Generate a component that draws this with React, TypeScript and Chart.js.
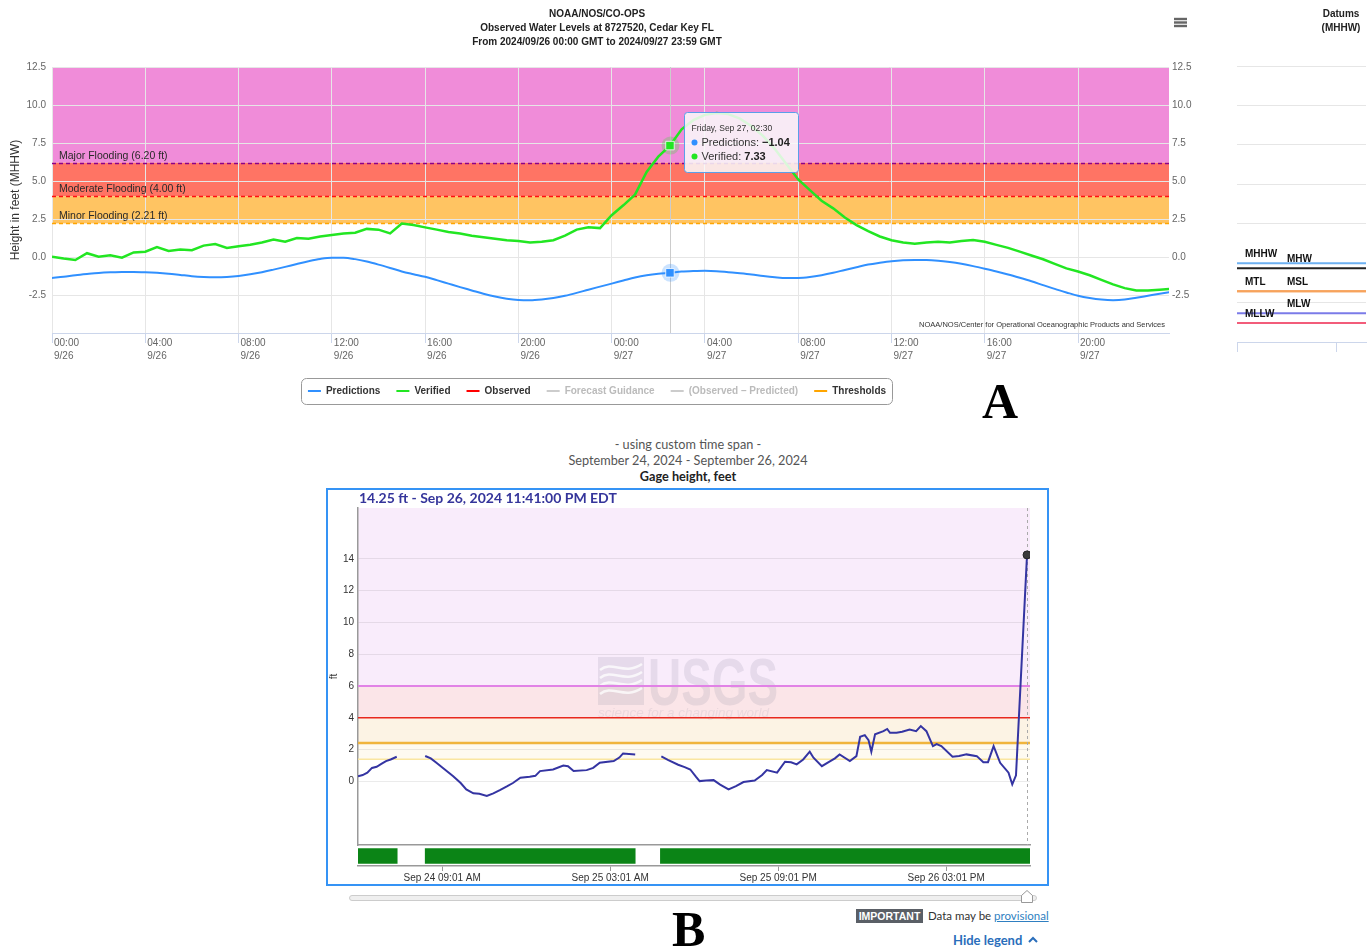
import React, { useEffect, useRef } from 'react';
import { Chart, registerables } from 'chart.js';

Chart.register(...registerables);

const SANS = "'Liberation Sans', Arial, Helvetica, sans-serif";
const LATO = "Lato, 'Open Sans', sans-serif";
Chart.defaults.font.family = SANS;

// ---------- Panel A: CO-OPS 8727520 Cedar Key FL (hours since 2024/09/26 00:00 GMT) ----------
const levelStepHours = 0.5;
const predictionsFt = [
  -1.38, -1.3, -1.2, -1.12, -1.05, -1.01, -0.99, -0.98, -1.0, -1.04,
  -1.1, -1.18, -1.26, -1.31, -1.33, -1.31, -1.25, -1.14, -1.0, -0.83,
  -0.65, -0.46, -0.28, -0.13, -0.05, -0.05, -0.14, -0.3, -0.5, -0.72,
  -0.95, -1.13, -1.3, -1.52, -1.75, -1.98, -2.2, -2.42, -2.6, -2.74,
  -2.83, -2.85, -2.8, -2.7, -2.55, -2.36, -2.15, -1.95, -1.75, -1.55,
  -1.35, -1.2, -1.1, -1.04, -0.96, -0.92, -0.9, -0.93, -1.0, -1.07,
  -1.15, -1.25, -1.33, -1.38, -1.38, -1.32, -1.2, -1.04, -0.85, -0.67,
  -0.5, -0.38, -0.28, -0.22, -0.2, -0.2, -0.24, -0.33, -0.45, -0.6,
  -0.77, -0.95, -1.15, -1.37, -1.6, -1.85, -2.1, -2.33, -2.55, -2.7,
  -2.8, -2.84, -2.8, -2.68, -2.55, -2.42, -2.3,
];
const verifiedFt = [
  0.02, -0.1, -0.2, 0.25, 0.02, 0.12, -0.05, 0.3, 0.35, 0.65,
  0.4, 0.5, 0.45, 0.75, 0.85, 0.6, 0.7, 0.8, 0.95, 1.15,
  1.0, 1.25, 1.2, 1.35, 1.45, 1.55, 1.6, 1.85, 1.8, 1.55,
  2.2, 2.1, 1.95, 1.8, 1.65, 1.55, 1.4, 1.3, 1.2, 1.1,
  1.05, 0.95, 1.0, 1.1, 1.4, 1.8, 1.95, 1.9, 2.75, 3.4,
  4.1, 5.6, 6.6, 7.33, 8.4, 9.0, 9.35, 9.47, 9.4, 9.1,
  8.6, 7.95, 7.1, 6.1, 5.1, 4.4, 3.7, 3.2, 2.6, 2.1,
  1.7, 1.35, 1.1, 0.95, 0.88, 0.95, 1.0, 0.95, 1.05, 1.12,
  1.0, 0.8, 0.6, 0.35, 0.1, -0.15, -0.45, -0.75, -0.95, -1.2,
  -1.5, -1.8, -2.05, -2.2, -2.2, -2.15, -2.1,
];

const levelAxisMaxHour = 47.9;
const levelTickHours = [0, 4, 8, 12, 16, 20, 24, 28, 32, 36, 40, 44];
const levelTickTimes = ['00:00', '04:00', '08:00', '12:00', '16:00', '20:00', '00:00', '04:00', '08:00', '12:00', '16:00', '20:00'];
const levelTickDates = ['9/26', '9/26', '9/26', '9/26', '9/26', '9/26', '9/27', '9/27', '9/27', '9/27', '9/27', '9/27'];
const levelYTicks = [-5, -2.5, 0, 2.5, 5, 7.5, 10, 12.5];

const floodNames = ['Major Flooding', 'Moderate Flooding', 'Minor Flooding'];
const floodLevelsFt = [6.2, 4.0, 2.21];
const floodBandTops = [12.5, 6.2, 4.0];
const floodBandColors = ['#F08CD9', '#FF7464', '#FFC462'];
const floodLineColors = ['#8B008B', '#FF1010', '#FFA500'];

const tooltipHour = 26.5;
const tooltipTitle = 'Friday, Sep 27, 02:30';

const legendNames = ['Predictions', 'Verified', 'Observed', 'Forecast Guidance', '(Observed – Predicted)', 'Thresholds'];
const legendColors = ['#3090FF', '#22E622', '#FF0000', '#CCCCCC', '#CCCCCC', '#FFA500'];
const legendTextColors = ['#333333', '#333333', '#333333', '#BBBBBB', '#BBBBBB', '#333333'];

const PRED_COLOR = '#3090FF';
const VER_COLOR = '#22E622';

// ---------- Datums (MHHW) ----------
const datumNames = ['MHHW', 'MHW', 'MTL', 'MSL', 'MLW', 'MLLW'];
const datumValuesFt = [0, -0.32, -1.78, -1.78, -3.17, -3.8];
const datumColors = ['#6DB1F2', '#222222', '#F7A35C', '#F7A35C', '#7B7BE8', '#F25C7A'];
const datumLabelColumn = [0, 1, 0, 1, 1, 0];
const datumGridFt = [-2.5, 0, 2.5, 5, 7.5, 10, 12.5];

// ---------- Panel B: gage height (hours since Sep 24 00:00 EDT) ----------
const gageHours = [
  0, 0.5, 1, 1.5, 2, 2.5, 3, 3.5, 4.15, 5.7,
  7.2, 7.8, 8.4, 9.3, 10.2, 11, 11.6, 12.36, 13, 13.8,
  14.5, 15.2, 16, 16.6, 17.4, 18.4, 19, 19.5, 20.9, 22,
  22.5, 23.1, 24.5, 25.2, 25.9, 27.4, 28, 28.4, 29.7, 31,
  32.5, 33.2, 34.3, 35, 35.6, 36.2, 36.6, 37.3, 38.1, 38.8,
  39.7, 40.5, 41.3, 42.5, 43.3, 43.8, 44.9, 45.75, 46.4, 47,
  47.7, 48.4, 48.8, 49.7, 50.6, 51.1, 51.6, 52.7, 53.4, 53.8,
  54.3, 54.7, 55, 55.4, 56.3, 56.7, 57, 57.7, 58.3, 59.1,
  59.8, 60.3, 60.9, 61.6, 62, 62.5, 63.7, 64.4, 65.2, 66.3,
  67, 67.5, 68.1, 68.8, 69.7, 70.1, 70.5, 71.683,
];
const gageFt = [
  0.33, 0.4, 0.55, 0.85, 0.92, 1.1, 1.28, 1.38, 1.55, null,
  1.6, 1.45, 1.17, 0.75, 0.33, -0.1, -0.5, -0.75, -0.78, -0.92,
  -0.75, -0.55, -0.3, -0.1, 0.23, 0.3, 0.35, 0.65, 0.75, 1.0,
  0.95, 0.65, 0.71, 0.85, 1.17, 1.28, 1.5, 1.76, 1.7, null,
  1.57, 1.35, 1.05, 0.9, 0.75, 0.3, 0.02, 0.05, 0.08, -0.2,
  -0.5, -0.3, -0.04, 0.06, 0.4, 0.71, 0.55, 1.24, 1.2, 1.07,
  1.38, 1.87, 1.49, 0.96, 1.28, 1.45, 1.7, 1.28, 1.59, 2.81,
  2.91, 2.6, 1.87, 2.96, 3.16, 3.3, 3.06, 3.06, 3.12, 3.27,
  3.16, 3.48, 3.16, 2.22, 2.35, 2.22, 1.55, 1.6, 1.7, 1.59,
  1.21, 1.21, 2.22, 1.17, 0.55, -0.19, 0.38, 14.25,
];
const gageReadingStamp = 'Sep 26, 2024 11:41:00 PM EDT';
const gageYTicks = [0, 2, 4, 6, 8, 10, 12, 14];
const gageAxisMax = 17.2;

const gageBandFrom = [6, 4, 2.41, 1.4];
const gageBandTo = [gageAxisMax, 6, 4, 2.41];
const gageBandColors = ['#F9ECFB', '#FBE5E8', '#FCF3E4', '#FEFAF0'];
const gageLineValues = [6, 4, 2.41, 1.4];
const gageLineColors = ['#E182E6', '#E8281E', '#F0B43C', '#FAE6A0'];
const gageLineWidths = [2, 1.5, 2.5, 1.5];

const coverageStart = [0, 7.2, 32.4];
const coverageEnd = [4.2, 29.7, 72];
const gageTickHours = [9.017, 27.017, 45.017, 63.017];
const gageTickLabels = ['Sep 24 09:01 AM', 'Sep 25 03:01 AM', 'Sep 25 09:01 PM', 'Sep 26 03:01 PM'];

const fmtFt = (v: number) => (v < 0 ? '−' : '') + Math.abs(v).toFixed(2);
const tipIndex = Math.round(tooltipHour / levelStepHours);

// ---------- plugins ----------
const floodPlugin = {
  id: 'floodThresholds',
  beforeDraw(chart: any) {
    const { ctx, chartArea: a, scales } = chart;
    const y = scales.y;
    ctx.save();
    floodLevelsFt.forEach((from, i) => {
      const top = y.getPixelForValue(floodBandTops[i]);
      const bot = y.getPixelForValue(from);
      ctx.fillStyle = floodBandColors[i];
      ctx.fillRect(a.left, top, a.right - a.left, bot - top);
    });
    ctx.restore();
  },
  beforeDatasetsDraw(chart: any) {
    const { ctx, chartArea: a, scales } = chart;
    const { x, y } = scales;
    ctx.save();
    floodLevelsFt.forEach((v, i) => {
      const py = Math.round(y.getPixelForValue(v)) + 0.5;
      ctx.setLineDash([4, 3]);
      ctx.strokeStyle = floodLineColors[i];
      ctx.lineWidth = 1.5;
      ctx.beginPath();
      ctx.moveTo(a.left, py);
      ctx.lineTo(a.right, py);
      ctx.stroke();
      ctx.setLineDash([]);
      ctx.font = `10.5px ${SANS}`;
      ctx.fillStyle = '#2a2a2a';
      ctx.textBaseline = 'alphabetic';
      ctx.textAlign = 'left';
      ctx.fillText(`${floodNames[i]} (${v.toFixed(2)} ft)`, a.left + 7, py - 5);
    });
    // crosshair at the hovered time
    const px = Math.round(x.getPixelForValue(tooltipHour)) + 0.5;
    ctx.strokeStyle = '#cccccc';
    ctx.lineWidth = 1;
    ctx.beginPath();
    ctx.moveTo(px, a.top);
    ctx.lineTo(px, a.bottom);
    ctx.stroke();
    // hover halos
    const halo = (val: number, color: string) => {
      ctx.beginPath();
      ctx.arc(px, y.getPixelForValue(val), 9, 0, Math.PI * 2);
      ctx.fillStyle = color;
      ctx.fill();
    };
    halo(predictionsFt[tipIndex], 'rgba(48,144,255,0.25)');
    halo(verifiedFt[tipIndex], 'rgba(34,230,34,0.25)');
    ctx.restore();
  },
  afterDraw(chart: any) {
    const { ctx, chartArea: a, scales } = chart;
    const { x, y } = scales;
    ctx.save();
    // credits
    ctx.font = `7.5px ${SANS}`;
    ctx.fillStyle = '#333';
    ctx.textAlign = 'right';
    ctx.textBaseline = 'middle';
    ctx.fillText('NOAA/NOS/Center for Operational Oceanographic Products and Services', a.right - 4, a.bottom - 8);

    // tooltip
    const px = x.getPixelForValue(tooltipHour);
    const vy = y.getPixelForValue(verifiedFt[tipIndex]);
    const rows = [
      { name: 'Predictions: ', value: fmtFt(predictionsFt[tipIndex]), color: PRED_COLOR, w: 0 },
      { name: 'Verified: ', value: fmtFt(verifiedFt[tipIndex]), color: VER_COLOR, w: 0 },
    ];
    ctx.font = `8.5px ${SANS}`;
    const titleW = ctx.measureText(tooltipTitle).width;
    let rowW = 0;
    rows.forEach((r) => {
      ctx.font = `11px ${SANS}`;
      r.w = ctx.measureText(r.name).width;
      ctx.font = `bold 11px ${SANS}`;
      rowW = Math.max(rowW, 11 + r.w + ctx.measureText(r.value).width);
    });
    const w = Math.round(Math.max(titleW, rowW) + 15);
    const h = 60;
    const left = Math.round(px + 14) + 0.5;
    const top = Math.round(vy - 34) + 0.5;
    ctx.beginPath();
    ctx.roundRect(left, top, w, h, 3);
    ctx.fillStyle = 'rgba(249,249,249,0.86)';
    ctx.fill();
    ctx.strokeStyle = '#5A9FEA';
    ctx.lineWidth = 1;
    ctx.stroke();
    ctx.textAlign = 'left';
    ctx.textBaseline = 'middle';
    ctx.font = `8.5px ${SANS}`;
    ctx.fillStyle = '#333';
    ctx.fillText(tooltipTitle, left + 7, top + 16);
    rows.forEach((r, i) => {
      const ry = top + 30 + i * 14;
      ctx.beginPath();
      ctx.arc(left + 10, ry, 3, 0, Math.PI * 2);
      ctx.fillStyle = r.color;
      ctx.fill();
      ctx.fillStyle = '#333';
      ctx.font = `11px ${SANS}`;
      ctx.fillText(r.name, left + 17, ry);
      ctx.font = `bold 11px ${SANS}`;
      ctx.fillStyle = '#222';
      ctx.fillText(r.value, left + 17 + r.w, ry);
    });

    // export menu icon
    ctx.fillStyle = '#666';
    [19, 22.5, 26].forEach((yy) => ctx.fillRect(1174, yy - 1.2, 13, 2.4));

    // legend frame
    const hb = chart.legend && chart.legend.legendHitBoxes;
    if (hb && hb.length) {
      const l = Math.min(...hb.map((b: any) => b.left)) - 7;
      const r = Math.max(...hb.map((b: any) => b.left + b.width)) + 6;
      const cy = hb[0].top + hb[0].height / 2;
      ctx.beginPath();
      ctx.roundRect(Math.round(l) + 0.5, Math.round(cy - 13) + 0.5, Math.round(r - l), 26, 5);
      ctx.strokeStyle = '#999';
      ctx.lineWidth = 1;
      ctx.stroke();
    }
    ctx.restore();
  },
};

const datumPlugin = {
  id: 'datumLabels',
  afterDraw(chart: any) {
    const { ctx, chartArea: a, scales } = chart;
    const y = scales.y;
    ctx.save();
    ctx.font = `bold 10px ${SANS}`;
    ctx.fillStyle = '#111';
    ctx.textBaseline = 'middle';
    ctx.textAlign = 'left';
    datumNames.forEach((n, i) => {
      const px = a.left + (datumLabelColumn[i] ? 50 : 8);
      ctx.fillText(n, px, y.getPixelForValue(datumValuesFt[i]) - 9);
    });
    ctx.textAlign = 'center';
    ctx.fillStyle = '#222';
    ctx.fillText('Datums', 111, 14);
    ctx.fillText('(MHHW)', 111, 28);
    ctx.restore();
  },
};

const gagePlugin = {
  id: 'gageThresholds',
  beforeDraw(chart: any) {
    const { ctx, chartArea: a, scales } = chart;
    const y = scales.y;
    ctx.save();
    gageBandFrom.forEach((from, i) => {
      const top = y.getPixelForValue(gageBandTo[i]);
      const bot = y.getPixelForValue(from);
      ctx.fillStyle = gageBandColors[i];
      ctx.fillRect(a.left, top, a.right - a.left, bot - top);
    });
    ctx.restore();
  },
  beforeDatasetsDraw(chart: any) {
    const { ctx, chartArea: a, scales } = chart;
    const { x, y } = scales;
    ctx.save();
    // USGS watermark
    const ox = a.left + 240;
    const oy = a.top + 149;
    const wm = 'rgba(120,120,145,0.15)';
    ctx.fillStyle = wm;
    ctx.fillRect(ox, oy, 46, 48);
    ctx.strokeStyle = 'rgba(255,255,255,0.75)';
    ctx.lineWidth = 2.5;
    for (let k = 0; k < 4; k++) {
      const wy = oy + 9 + k * 8;
      ctx.beginPath();
      ctx.moveTo(ox + 2, wy + 4);
      ctx.bezierCurveTo(ox + 14, wy - 6, ox + 26, wy + 10, ox + 44, wy - 2);
      ctx.stroke();
    }
    ctx.fillStyle = wm;
    ctx.font = `bold 66px ${SANS}`;
    ctx.textBaseline = 'alphabetic';
    ctx.textAlign = 'left';
    const ww = ctx.measureText('USGS').width;
    ctx.save();
    ctx.translate(ox + 50, oy + 48);
    ctx.scale(130 / ww, 1);
    ctx.fillText('USGS', 0, 0);
    ctx.restore();
    ctx.fillStyle = 'rgba(120,120,145,0.12)';
    ctx.font = `italic 13.5px ${SANS}`;
    ctx.fillText('science for a changing world', ox, oy + 60);

    // threshold lines
    gageLineValues.forEach((v, i) => {
      const py = y.getPixelForValue(v);
      ctx.strokeStyle = gageLineColors[i];
      ctx.lineWidth = gageLineWidths[i];
      ctx.beginPath();
      ctx.moveTo(a.left, py);
      ctx.lineTo(a.right, py);
      ctx.stroke();
    });
    // crosshair at latest reading
    const px = Math.round(x.getPixelForValue(gageHours[gageHours.length - 1])) + 0.5;
    ctx.strokeStyle = '#aaaaaa';
    ctx.lineWidth = 1;
    ctx.setLineDash([3, 3]);
    ctx.beginPath();
    ctx.moveTo(px, a.top);
    ctx.lineTo(px, a.bottom);
    ctx.stroke();
    ctx.restore();
  },
  afterDraw(chart: any) {
    const { ctx, chartArea: a } = chart;
    ctx.save();
    ctx.font = `bold 14px ${LATO}`;
    ctx.fillStyle = '#35359B';
    ctx.textBaseline = 'middle';
    ctx.textAlign = 'left';
    const latest = gageFt[gageFt.length - 1] as number;
    ctx.fillText(`${latest.toFixed(2)} ft - ${gageReadingStamp}`, a.left + 1, 8);
    ctx.restore();
  },
};

function useChart(ref: any, make: () => any) {
  useEffect(() => {
    const chart = new Chart(ref.current, make());
    return () => chart.destroy();
  }, []);
}

function levelConfig(): any {
  const setTicks = (s: any) => {
    s.ticks = levelYTicks.map((v) => ({ value: v }));
  };
  const yLabel = (v: any) => (v === -5 ? '' : Number(v).toFixed(1));
  return {
    type: 'line',
    data: {
      datasets: [
        {
          label: 'Verified',
          data: verifiedFt.map((v, i) => ({ x: i * levelStepHours, y: v })),
          borderColor: VER_COLOR,
          borderWidth: 2.5,
          tension: 0,
          order: 0,
          pointStyle: 'rect',
          pointRadius: (c: any) => (c.dataIndex === tipIndex ? 6 : 0),
          pointBackgroundColor: VER_COLOR,
          pointBorderColor: 'rgba(255,255,255,0.8)',
          pointBorderWidth: 1,
        },
        {
          label: 'Predictions',
          data: predictionsFt.map((v, i) => ({ x: i * levelStepHours, y: v })),
          borderColor: PRED_COLOR,
          borderWidth: 2,
          cubicInterpolationMode: 'monotone',
          order: 1,
          pointStyle: 'rect',
          pointRadius: (c: any) => (c.dataIndex === tipIndex ? 6 : 0),
          pointBackgroundColor: PRED_COLOR,
          pointBorderColor: 'rgba(255,255,255,0.8)',
          pointBorderWidth: 1,
        },
      ],
    },
    options: {
      responsive: false,
      animation: false,
      events: [],
      layout: { padding: 0 },
      plugins: {
        title: {
          display: true,
          text: ['NOAA/NOS/CO-OPS', 'Observed Water Levels at 8727520, Cedar Key FL', 'From 2024/09/26 00:00 GMT to 2024/09/27 23:59 GMT'],
          font: { family: SANS, size: 10, weight: 'bold', lineHeight: 1.4 },
          color: '#222',
          padding: { top: 7, bottom: 18 },
        },
        legend: {
          position: 'bottom',
          onClick: () => {},
          labels: {
            font: { family: SANS, size: 10, weight: 'bold' },
            color: '#333',
            boxWidth: 13,
            boxHeight: 2,
            padding: 16,
            generateLabels: () =>
              legendNames.map((name, i) => ({
                text: name,
                fillStyle: legendColors[i],
                strokeStyle: legendColors[i],
                lineWidth: 0,
                fontColor: legendTextColors[i],
                hidden: false,
                datasetIndex: i,
              })),
          },
        },
        tooltip: { enabled: false },
      },
      scales: {
        x: {
          type: 'linear',
          min: 0,
          max: levelAxisMaxHour,
          afterBuildTicks: (s: any) => {
            s.ticks = levelTickHours.map((v) => ({ value: v }));
          },
          afterFit: (s: any) => {
            s.height = 37;
          },
          grid: { color: '#e6e6e6', tickLength: 10, tickColor: '#ccd6eb' },
          border: { color: '#ccd6eb' },
          ticks: {
            align: 'start',
            maxRotation: 0,
            autoSkip: false,
            padding: -6,
            labelOffset: 2,
            color: '#666',
            font: { family: SANS, size: 10, lineHeight: 1.3 },
            callback: (_v: any, i: number) => [levelTickTimes[i], levelTickDates[i]],
          },
        },
        y: {
          min: -5,
          max: 12.5,
          afterBuildTicks: setTicks,
          afterFit: (s: any) => {
            s.width = 52;
          },
          grid: { color: '#e6e6e6', drawTicks: false },
          border: { display: false },
          ticks: { padding: 6, color: '#666', font: { family: SANS, size: 10 }, callback: yLabel },
          title: {
            display: true,
            text: 'Height in feet (MHHW)',
            color: '#333',
            font: { family: SANS, size: 12 },
            padding: { top: 8, bottom: 0 },
          },
        },
        y2: {
          position: 'right',
          min: -5,
          max: 12.5,
          afterBuildTicks: setTicks,
          afterFit: (s: any) => {
            s.width = 25;
          },
          grid: { display: false, drawTicks: false },
          border: { display: false },
          ticks: { padding: 3, color: '#666', font: { family: SANS, size: 10 }, callback: yLabel },
        },
      },
    },
    plugins: [floodPlugin],
  };
}

function datumConfig(): any {
  return {
    type: 'line',
    data: {
      datasets: datumNames.map((n, i) => ({
        label: n,
        data: [
          { x: 0, y: datumValuesFt[i] },
          { x: 1, y: datumValuesFt[i] },
        ],
        borderColor: datumColors[i],
        borderWidth: 2,
        pointRadius: 0,
      })),
    },
    options: {
      responsive: false,
      animation: false,
      events: [],
      layout: { padding: { left: 7, right: 5, top: 66, bottom: 0 }, autoPadding: false },
      plugins: { legend: { display: false }, tooltip: { enabled: false }, title: { display: false } },
      scales: {
        x: {
          type: 'linear',
          min: 0,
          max: 1,
          afterBuildTicks: (s: any) => {
            s.ticks = [{ value: 0 }, { value: 0.775 }];
          },
          afterFit: (s: any) => {
            s.height = 18;
          },
          grid: { drawOnChartArea: false, tickLength: 10, color: '#ccd6eb' },
          border: { color: '#ccd6eb' },
          ticks: { display: false },
        },
        y: {
          min: -5,
          max: 12.5,
          afterBuildTicks: (s: any) => {
            s.ticks = datumGridFt.map((v) => ({ value: v }));
          },
          afterFit: (s: any) => {
            s.width = 0;
          },
          grid: { color: '#e6e6e6', drawTicks: false },
          border: { display: false },
          ticks: { display: false },
        },
      },
    },
    plugins: [datumPlugin],
  };
}

function gageConfig(): any {
  const last = gageHours.length - 1;
  return {
    type: 'line',
    data: {
      datasets: [
        {
          label: 'Gage height',
          data: gageHours.map((h, i) => ({ x: h, y: gageFt[i] })),
          borderColor: '#3434A2',
          borderWidth: 2,
          tension: 0,
          spanGaps: false,
          pointRadius: (c: any) => (c.dataIndex === last ? 4 : 0),
          pointBackgroundColor: '#3a3a3a',
          pointBorderColor: '#222',
          pointBorderWidth: 1,
        },
      ],
    },
    options: {
      responsive: false,
      animation: false,
      events: [],
      layout: { padding: { top: 18, right: 17, left: 0, bottom: 0 }, autoPadding: false },
      plugins: { legend: { display: false }, tooltip: { enabled: false } },
      scales: {
        x: {
          type: 'linear',
          min: 0,
          max: 72,
          afterFit: (s: any) => {
            s.height = 1;
            s.paddingLeft = 0;
            s.paddingRight = 0;
            s.paddingTop = 0;
            s.paddingBottom = 0;
          },
          grid: { display: false },
          border: { color: '#999', width: 1.5 },
          ticks: { display: false },
        },
        y: {
          min: -4,
          max: gageAxisMax,
          afterBuildTicks: (s: any) => {
            s.ticks = gageYTicks.map((v) => ({ value: v }));
          },
          afterFit: (s: any) => {
            s.width = 30;
            s.paddingTop = 0;
            s.paddingBottom = 0;
          },
          grid: { color: 'rgba(0,0,0,0.08)', drawTicks: false },
          border: { color: '#999', width: 1.5 },
          ticks: { padding: 4, color: '#333', font: { family: SANS, size: 10 } },
          title: { display: true, text: 'ft', color: '#333', font: { family: SANS, size: 10 }, padding: { top: 0, bottom: 0 } },
        },
      },
    },
    plugins: [gagePlugin],
  };
}

function coverageConfig(): any {
  return {
    type: 'bar',
    data: {
      labels: ['coverage'],
      datasets: coverageStart.map((s, i) => ({
        label: `span ${i + 1}`,
        data: [[s, coverageEnd[i]]],
        backgroundColor: '#0B8416',
        borderWidth: 0,
        grouped: false,
        barThickness: 15,
      })),
    },
    options: {
      indexAxis: 'y',
      responsive: false,
      animation: false,
      events: [],
      layout: { padding: { left: 30, right: 17, top: 0, bottom: 0 }, autoPadding: false },
      plugins: { legend: { display: false }, tooltip: { enabled: false } },
      scales: {
        x: {
          type: 'linear',
          min: 0,
          max: 72,
          afterBuildTicks: (s: any) => {
            s.ticks = gageTickHours.map((v) => ({ value: v }));
          },
          afterFit: (s: any) => {
            s.height = 18;
          },
          grid: { drawOnChartArea: false, tickLength: 5, color: '#999' },
          border: { color: '#999', width: 1.5 },
          ticks: {
            padding: 1,
            color: '#333',
            maxRotation: 0,
            autoSkip: false,
            font: { family: SANS, size: 10 },
            callback: (_v: any, i: number) => gageTickLabels[i],
          },
        },
        y: { display: false },
      },
    },
  };
}

const abs = (left: number, top: number, extra: any = {}) => ({ position: 'absolute' as const, left, top, ...extra });

export default function App() {
  const levelRef = useRef<HTMLCanvasElement>(null);
  const datumRef = useRef<HTMLCanvasElement>(null);
  const gageRef = useRef<HTMLCanvasElement>(null);
  const coverageRef = useRef<HTMLCanvasElement>(null);
  useChart(levelRef, levelConfig);
  useChart(datumRef, datumConfig);
  useChart(gageRef, gageConfig);
  useChart(coverageRef, coverageConfig);

  const letter = { fontFamily: "'Liberation Serif', 'Times New Roman', serif", fontWeight: 'bold', fontSize: 50, lineHeight: '50px', color: '#000' };

  return (
    <div style={{ position: 'absolute', left: 0, top: 0, width: 1371, height: 949, background: '#fff', overflow: 'hidden' }}>
      <canvas ref={levelRef} width={1194} height={406} style={abs(0, 0, { display: 'block' })} />
      <canvas ref={datumRef} width={141} height={360} style={abs(1230, 0, { display: 'block' })} />
      <div style={abs(982, 376, letter)}>A</div>

      <div style={abs(488, 436, { width: 400, textAlign: 'center', fontFamily: LATO, fontSize: 12.7, lineHeight: '16px', color: '#555' })}>
        <div>- using custom time span -</div>
        <div>September 24, 2024 - September 26, 2024</div>
        <div style={{ fontWeight: 'bold', color: '#222' }}>Gage height, feet</div>
      </div>

      <div style={abs(326, 488, { width: 723, height: 398, border: '2px solid #3593F5', boxSizing: 'border-box' })} />
      <canvas ref={gageRef} width={719} height={356} style={abs(328, 490, { display: 'block' })} />
      <canvas ref={coverageRef} width={719} height={38} style={abs(328, 846, { display: 'block' })} />

      <div style={abs(349, 895, { width: 688, height: 6, border: '1px solid #cccccc', borderRadius: 3, background: '#efefef', boxSizing: 'border-box' })} />
      <svg style={abs(1020, 889)} width={14} height={15}>
        <path d="M1.5 13.5 V6.5 L7 1.5 L12.5 6.5 V13.5 Z" fill="#fff" stroke="#999" strokeWidth={1} />
      </svg>

      <div style={abs(856, 909, { width: 67, height: 14, background: '#5a5f66', color: '#fff', fontFamily: SANS, fontWeight: 'bold', fontSize: 10.5, lineHeight: '14px', textAlign: 'center' })}>
        IMPORTANT
      </div>
      <div style={abs(928, 908, { fontFamily: LATO, fontSize: 11.5, lineHeight: '15px', color: '#333', whiteSpace: 'nowrap' })}>
        Data may be <span style={{ color: '#2f7fc1', textDecoration: 'underline' }}>provisional</span>
      </div>
      <div style={abs(953, 932, { fontFamily: LATO, fontWeight: 'bold', fontSize: 13, lineHeight: '16px', color: '#2A6EBB', whiteSpace: 'nowrap' })}>
        Hide legend
        <svg width={12} height={10} style={{ marginLeft: 5 }}>
          <path d="M2 7 L6 3 L10 7" fill="none" stroke="#2A6EBB" strokeWidth={2} />
        </svg>
      </div>
      <div style={abs(672, 904, letter)}>B</div>
    </div>
  );
}
